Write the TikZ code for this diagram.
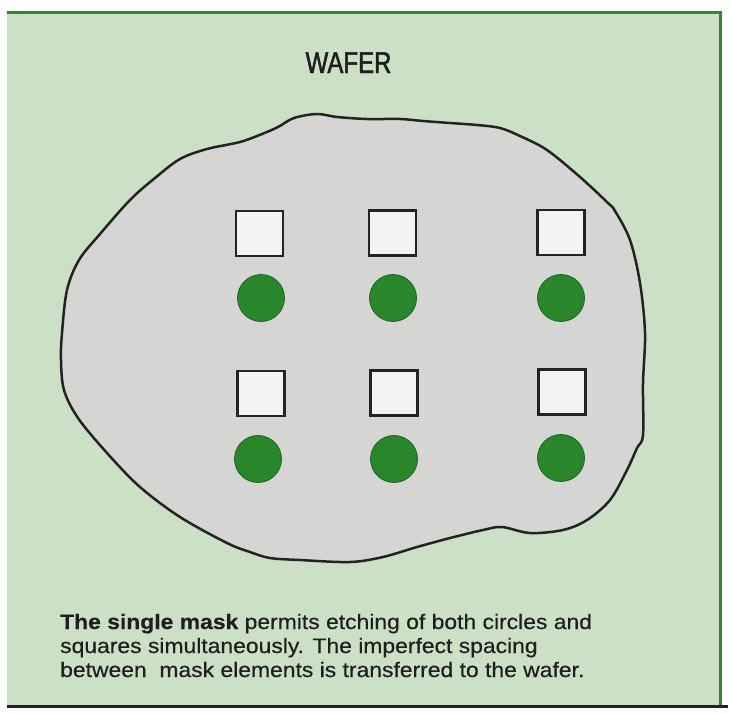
\documentclass[tikz,border=0pt]{standalone}
\usepackage{fontspec}
\setmainfont{Liberation Sans}
\newfontfamily\capfont[FakeStretch=1.09,FakeBold=0.4]{Liberation Sans}
\newfontfamily\titlefont[FakeStretch=0.8,FakeBold=1.6]{Liberation Sans}
\definecolor{bggreen}{RGB}{203,224,197}
\definecolor{framegreen}{RGB}{45,140,45}
\definecolor{wafergray}{RGB}{213,213,211}
\definecolor{outline}{RGB}{35,35,35}
\definecolor{sqfill}{RGB}{243,243,241}
\definecolor{dotgreen}{RGB}{42,134,42}
\definecolor{dotedge}{RGB}{30,100,30}
\tikzset{
  sqbox/.style={draw=outline, fill=sqfill, line width=2.5pt, minimum width=47pt, minimum height=45pt, inner sep=0pt},
  dotc/.style={circle, draw=dotedge, fill=dotgreen, line width=0.8pt, minimum size=47pt, inner sep=0pt},
  captxt/.style={anchor=base west, inner sep=0pt, font=\capfont\fontsize{21}{24}\selectfont, text=black!88}
}
\begin{document}
\begin{tikzpicture}[x=1pt,y=-1pt]
\useasboundingbox (0,0) rectangle (730,713);
\fill[white] (0,0) rectangle (730,713);
% background panel
\fill[bggreen] (7,12) rectangle (721,706);
\draw[framegreen, line width=2.5pt] (7,12.5) -- (720.5,12.5) -- (720.5,706);
\draw[outline, line width=3pt] (7,706.5) -- (728,706.5);
% title
\node[anchor=base, inner sep=0pt, font=\titlefont\fontsize{30}{30}\selectfont, text=black!88] (title) at (348.5,73) {WAFER};
% wafer outline
\draw[outline, fill=wafergray, line width=2.5pt] plot[smooth cycle, tension=0.55] coordinates {
(240,142) (262,134) (278,127) (294,118) (317,114) (337,117) (367,119) (400,119)
(423,121) (450,123) (477,125) (500,128) (520,136) (547,150) (580,177) (608,203)
(615,211) (630,240) (640,283) (645,333) (643,383) (643,435) (637,448) (627,470)
(610,500) (587,520) (563,530) (530,533) (502,527) (483,530) (450,538) (417,547)
(383,557) (350,562) (300,560) (270,558) (250,552) (227,543) (180,517) (140,487)
(107,453) (78,418) (64,390) (61,360) (62,333) (67,290) (79,260) (100,234)
(130,200) (155,178) (180,159) (207,149)};
% squares
\node[sqbox] (s11) at (259.5,233.5) {};
\node[sqbox] (s12) at (392.5,233) {};
\node[sqbox] (s13) at (561,232.5) {};
\node[sqbox] (s21) at (261,393.5) {};
\node[sqbox] (s22) at (394,393) {};
\node[sqbox] (s23) at (562,392) {};
% circles
\node[dotc] (c11) at (261,298) {};
\node[dotc] (c12) at (393,298) {};
\node[dotc] (c13) at (561,298) {};
\node[dotc] (c21) at (258,459) {};
\node[dotc] (c22) at (394,459) {};
\node[dotc] (c23) at (561,458) {};
% caption
\node[captxt] (cap1) at (60,629) {\textbf{The single mask} permits etching of both circles and};
\node[captxt] (cap2) at (60,653) {squares simultaneously. The imperfect spacing};
\node[captxt] (cap3) at (60,677) {between\ \ mask elements is transferred to the wafer.};
\end{tikzpicture}
\end{document}
